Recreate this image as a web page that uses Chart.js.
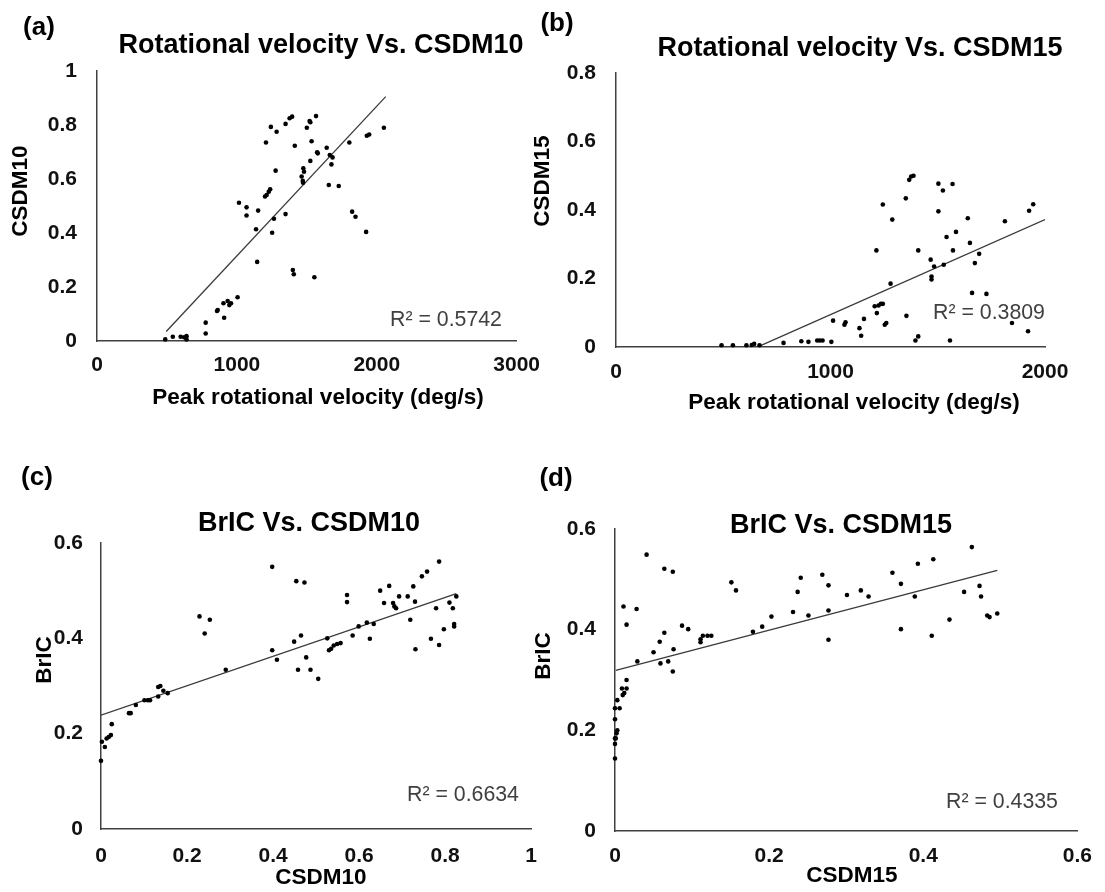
<!DOCTYPE html>
<html>
<head>
<meta charset="utf-8">
<script src="https://cdn.jsdelivr.net/npm/chart.js@4.4.1/dist/chart.umd.min.js"></script>
<style>
  body { margin: 0; background: #fff; width: 1105px; height: 892px; position: relative; overflow: hidden;
         font-family: "Liberation Sans", Arial, sans-serif; }
  canvas { position: absolute; }
  .t { position: absolute; transform: translate(-50%, -50%); white-space: nowrap; line-height: 1; color: #000; }
  .letter { font-size: 26px; font-weight: bold; }
  .title { font-size: 27px; font-weight: bold; }
  .axis { font-size: 22.5px; font-weight: bold; }
  .vert { transform: translate(-50%, -50%) rotate(-90deg); }
  .r2 { font-size: 21.3px; color: #404040; }
</style>
</head>
<body>
<canvas id="chartA"></canvas>
<canvas id="chartB"></canvas>
<canvas id="chartC"></canvas>
<canvas id="chartD"></canvas>

<div class="t letter" style="left:39px;top:26px">(a)</div>
<div class="t letter" style="left:557px;top:22px">(b)</div>
<div class="t letter" style="left:37px;top:476px">(c)</div>
<div class="t letter" style="left:556px;top:477px">(d)</div>

<div class="t title" style="left:321px;top:44px">Rotational velocity Vs. CSDM10</div>
<div class="t title" style="left:860px;top:47px">Rotational velocity Vs. CSDM15</div>
<div class="t title" style="left:309px;top:522px">BrIC Vs. CSDM10</div>
<div class="t title" style="left:841px;top:524px">BrIC Vs. CSDM15</div>

<div class="t axis" style="left:318px;top:397px">Peak rotational velocity (deg/s)</div>
<div class="t axis" style="left:854px;top:402px">Peak rotational velocity (deg/s)</div>
<div class="t axis" style="left:321px;top:877px">CSDM10</div>
<div class="t axis" style="left:852px;top:875px">CSDM15</div>

<div class="t axis vert" style="left:20px;top:191px">CSDM10</div>
<div class="t axis vert" style="left:542px;top:181px">CSDM15</div>
<div class="t axis vert" style="left:44px;top:660px">BrIC</div>
<div class="t axis vert" style="left:543px;top:656px">BrIC</div>

<div class="t r2" id="r2A" style="left:446px;top:320px"></div>
<div class="t r2" id="r2B" style="left:989px;top:313px"></div>
<div class="t r2" id="r2C" style="left:463px;top:795px"></div>
<div class="t r2" id="r2D" style="left:1002px;top:802px"></div>

<script>
// (a) peak rotational velocity vs CSDM10
const velA = [488, 542, 598, 623, 640, 640, 777, 777, 858, 863, 904, 909, 934, 946, 958, 1005,
  1015, 1069, 1069, 1152, 1137, 1145, 1208, 1201, 1213, 1228, 1238, 1243, 1284, 1252, 1265, 1277,
  1348, 1377, 1395, 1348, 1414, 1400, 1407, 1500, 1520, 1525, 1566, 1534, 1475, 1480, 1463, 1471,
  1473, 1525, 1574, 1578, 1554, 1642, 1657, 1664, 1684, 1676, 1728, 1804, 1824, 1848, 1924, 1929,
  1946, 2051];
const csdm10A = [0.006, 0.016, 0.016, 0.014, 0.018, 0.006, 0.028, 0.068, 0.111, 0.115, 0.14, 0.086, 0.148, 0.133, 0.14, 0.162,
  0.512, 0.495, 0.465, 0.483, 0.414, 0.293, 0.735, 0.535, 0.541, 0.553, 0.562, 0.793, 0.775, 0.401, 0.453, 0.631,
  0.804, 0.825, 0.831, 0.47, 0.723, 0.263, 0.247, 0.79, 0.815, 0.81, 0.833, 0.74, 0.64, 0.627, 0.609, 0.593,
  0.586, 0.667, 0.699, 0.695, 0.236, 0.716, 0.578, 0.689, 0.68, 0.654, 0.574, 0.735, 0.479, 0.46, 0.404, 0.76,
  0.765, 0.79];
const trendVelA = [495, 2064];
const trendCsdm10A = [0.035, 0.905];

// (b) peak rotational velocity vs CSDM15
const velB = [492, 545, 608, 633, 644, 669, 781, 864, 897, 938, 950, 963, 1004, 1012, 1065, 1070,
  1135, 1143, 1156, 1206, 1216, 1224, 1235, 1244, 1214, 1244, 1253, 1260, 1280, 1288, 1351, 1354,
  1367, 1376, 1387, 1396, 1409, 1409, 1467, 1471, 1471, 1483, 1503, 1503, 1524, 1528, 1541, 1557,
  1569, 1571, 1585, 1640, 1650, 1660, 1673, 1693, 1727, 1813, 1846, 1921, 1926, 1945];
const csdm15B = [0.005, 0.005, 0.005, 0.006, 0.009, 0.005, 0.012, 0.017, 0.015, 0.019, 0.019, 0.019, 0.015, 0.077, 0.065, 0.072,
  0.055, 0.033, 0.082, 0.119, 0.099, 0.121, 0.126, 0.126, 0.282, 0.416, 0.065, 0.07, 0.185, 0.372, 0.434, 0.091,
  0.488, 0.498, 0.5, 0.019, 0.031, 0.282, 0.255, 0.206, 0.197, 0.235, 0.477, 0.396, 0.457, 0.24, 0.321, 0.019,
  0.476, 0.282, 0.336, 0.376, 0.304, 0.158, 0.245, 0.272, 0.155, 0.367, 0.07, 0.046, 0.398, 0.417];
const trendVelB = [666, 2000];
const trendCsdm15B = [0.002, 0.372];

// (c) CSDM10 vs BrIC
const csdm10C = [0, 0.002, 0.009, 0.013, 0.018, 0.023, 0.025, 0.065, 0.069, 0.081, 0.101, 0.109, 0.114, 0.133, 0.133, 0.138,
  0.145, 0.155, 0.229, 0.241, 0.253, 0.29, 0.398, 0.398, 0.409, 0.449, 0.454, 0.458, 0.465, 0.473, 0.477, 0.487,
  0.505, 0.526, 0.53, 0.535, 0.541, 0.549, 0.557, 0.572, 0.572, 0.585, 0.599, 0.618, 0.625, 0.634, 0.649, 0.658,
  0.67, 0.679, 0.682, 0.686, 0.693, 0.713, 0.719, 0.726, 0.73, 0.731, 0.746, 0.758, 0.767, 0.779, 0.786, 0.786,
  0.797, 0.81, 0.818, 0.821, 0.821, 0.826];
const bricC = [0.143, 0.183, 0.172, 0.19, 0.193, 0.197, 0.22, 0.243, 0.243, 0.26, 0.27, 0.27, 0.27, 0.278, 0.298, 0.3,
  0.29, 0.285, 0.446, 0.41, 0.439, 0.334, 0.55, 0.375, 0.355, 0.393, 0.52, 0.334, 0.406, 0.517, 0.36, 0.334,
  0.315, 0.4, 0.375, 0.378, 0.385, 0.388, 0.39, 0.491, 0.476, 0.406, 0.425, 0.433, 0.399, 0.43, 0.5, 0.474,
  0.51, 0.474, 0.467, 0.463, 0.488, 0.488, 0.439, 0.509, 0.477, 0.377, 0.53, 0.54, 0.399, 0.463, 0.561, 0.386,
  0.419, 0.475, 0.463, 0.43, 0.425, 0.488];
const trendCsdm10C = [0, 0.826];
const trendBricC = [0.239, 0.494];

// (d) CSDM15 vs BrIC
const csdm15D = [0, 0, 0.001, 0, 0.002, 0.003, 0, 0, 0.006, 0.003, 0.01, 0.012, 0.009, 0.015, 0.015, 0.011,
  0.015, 0.028, 0.029, 0.041, 0.05, 0.058, 0.059, 0.064, 0.064, 0.069, 0.075, 0.075, 0.076, 0.087, 0.095, 0.111,
  0.111, 0.114, 0.12, 0.125, 0.151, 0.157, 0.179, 0.191, 0.203, 0.231, 0.237, 0.241, 0.251, 0.269, 0.277, 0.277,
  0.277, 0.301, 0.319, 0.329, 0.36, 0.371, 0.371, 0.389, 0.393, 0.411, 0.413, 0.434, 0.453, 0.463, 0.473, 0.475,
  0.483, 0.486, 0.496];
const bricD = [0.144, 0.184, 0.184, 0.173, 0.194, 0.2, 0.222, 0.244, 0.244, 0.26, 0.27, 0.274, 0.283, 0.283, 0.3, 0.446,
  0.41, 0.441, 0.337, 0.549, 0.355, 0.376, 0.333, 0.394, 0.521, 0.337, 0.515, 0.317, 0.361, 0.408, 0.401, 0.381,
  0.375, 0.388, 0.388, 0.388, 0.494, 0.478, 0.396, 0.406, 0.426, 0.435, 0.475, 0.503, 0.428, 0.509, 0.488, 0.438,
  0.38, 0.469, 0.478, 0.466, 0.513, 0.491, 0.401, 0.466, 0.531, 0.388, 0.54, 0.42, 0.475, 0.564, 0.487, 0.466,
  0.428, 0.425, 0.432];
const trendCsdm15D = [0.001, 0.496];
const trendBricD = [0.319, 0.518];

// tick labels
const ticksVel3000 = [0, 1000, 2000, 3000];
const ticksVel2000 = [0, 1000, 2000];
const ticksCsdm1 = [0, 0.2, 0.4, 0.6, 0.8, 1];
const ticksCsdm08 = [0, 0.2, 0.4, 0.6, 0.8];
const ticksCsdm06 = [0, 0.2, 0.4, 0.6];
const ticksBric = [0, 0.2, 0.4, 0.6];

const r2Values = ["0.5742", "0.3809", "0.6634", "0.4335"];

const FONT = "'Liberation Sans', Arial, sans-serif";
const AXIS_COLOR = "#404040";

function toPoints(xs, ys) {
  return xs.map((x, i) => ({ x: x, y: ys[i] }));
}

function scatterChart(id, box, xs, ys, tx, ty, ticksX, ticksY) {
  const canvas = document.getElementById(id);
  canvas.width = box.w;
  canvas.height = box.h;
  canvas.style.left = box.x + "px";
  canvas.style.top = box.y + "px";

  const tickFont = { family: FONT, size: 21, weight: "bold" };

  return new Chart(canvas, {
    type: "scatter",
    data: {
      datasets: [
        { data: toPoints(xs, ys), backgroundColor: "#000", borderWidth: 0, pointRadius: 2.3, pointHoverRadius: 2.3, clip: 6 },
        { data: toPoints(tx, ty), showLine: true, borderColor: "#3a3a3a", borderWidth: 1.3, pointRadius: 0, fill: false }
      ]
    },
    options: {
      responsive: false,
      animation: false,
      events: [],
      layout: { padding: { left: 0, top: box.top, right: box.right, bottom: box.bottom } },
      plugins: { legend: { display: false }, tooltip: { enabled: false } },
      scales: {
        x: {
          type: "linear",
          min: ticksX[0],
          max: ticksX[ticksX.length - 1],
          grid: { display: false, drawTicks: false },
          border: { display: true, color: AXIS_COLOR, width: 1.5 },
          ticks: { autoSkip: false, padding: box.xPad, color: "#111", font: tickFont, callback: v => String(v) },
          afterBuildTicks: s => { s.ticks = ticksX.map(v => ({ value: v })); },
          afterFit: s => { s.height = 40; }
        },
        y: {
          type: "linear",
          min: ticksY[0],
          max: ticksY[ticksY.length - 1],
          grid: { display: false, drawTicks: false },
          border: { display: true, color: AXIS_COLOR, width: 1.5 },
          ticks: { autoSkip: false, padding: box.yPad, color: "#111", font: tickFont, callback: v => String(v) },
          afterBuildTicks: s => { s.ticks = ticksY.map(v => ({ value: v })); },
          afterFit: s => { s.width = box.yW; }
        }
      }
    }
  });
}

scatterChart("chartA", { x: 0, y: 0, w: 552, h: 400, yW: 97, top: 71, right: 25, bottom: 19, xPad: 12, yPad: 20 },
  velA, csdm10A, trendVelA, trendCsdm10A, ticksVel3000, ticksCsdm1);
scatterChart("chartB", { x: 552, y: 0, w: 553, h: 400, yW: 64, top: 73, right: 60, bottom: 13, xPad: 13, yPad: 20 },
  velB, csdm15B, trendVelB, trendCsdm15B, ticksVel2000, ticksCsdm08);
scatterChart("chartC", { x: 0, y: 446, w: 552, h: 446, yW: 101, top: 97, right: 12, bottom: 23, xPad: 15, yPad: 18 },
  csdm10C, bricC, trendCsdm10C, trendBricC, ticksCsdm1, ticksBric);
scatterChart("chartD", { x: 552, y: 446, w: 553, h: 446, yW: 63, top: 83, right: 26, bottom: 21, xPad: 13, yPad: 19 },
  csdm15D, bricD, trendCsdm15D, trendBricD, ticksCsdm06, ticksBric);

["r2A", "r2B", "r2C", "r2D"].forEach((id, i) => {
  document.getElementById(id).textContent = "R\u00B2 = " + r2Values[i];
});
</script>
</body>
</html>
